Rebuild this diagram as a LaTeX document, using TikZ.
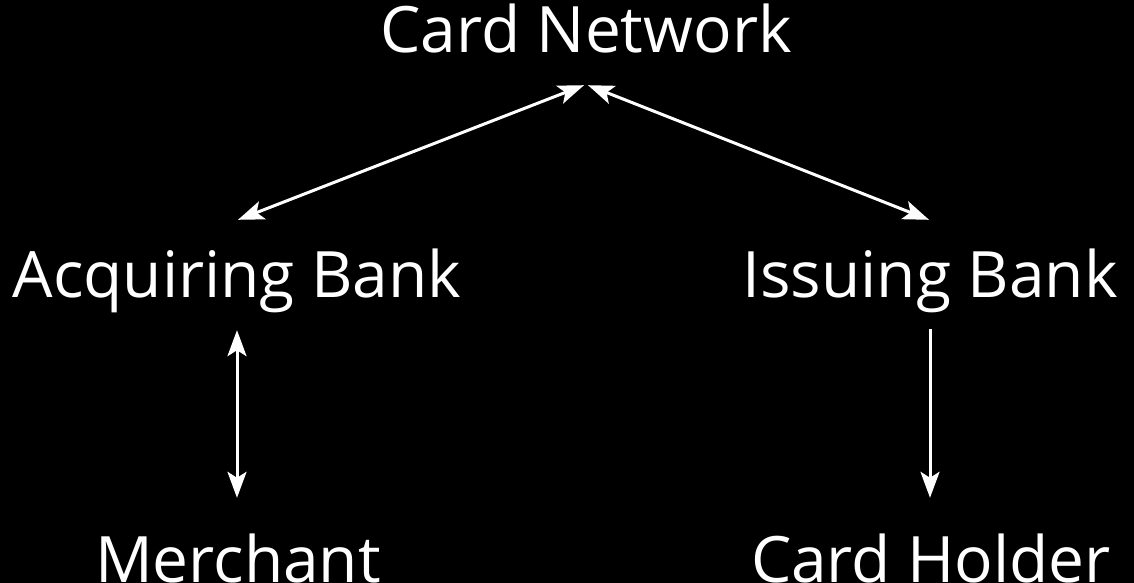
\documentclass[tikz,border=0pt]{standalone}
\usepackage{fontspec}
\setmainfont{Open Sans}
\usepackage{xcolor}
\usetikzlibrary{calc,arrows.meta}
\definecolor{bg}{HTML}{000000}
\definecolor{text}{HTML}{FFFFFF}
\tikzset{
  party/.style={text=text, font=\fontsize{64}{76}\selectfont, inner sep=0pt,
    text height=45pt, text depth=0pt, anchor=base},
  link/.style={draw=text, line width=3pt,
    arrows={Stealth[length=26pt, width=19pt, inset=6pt]-Stealth[length=26pt, width=19pt, inset=6pt]}},
  oneway/.style={draw=text, line width=3pt,
    -{Stealth[length=26pt, width=19pt, inset=6pt]}},
}
\begin{document}
\begin{tikzpicture}[x=1pt,y=-1pt]
  \fill[bg] (0,0) rectangle (1134,583);
  \useasboundingbox (0,0) rectangle (1134,583);
  \node[party] (net) at (586,53) {Card Network};
  \node[party] (acq) at (237,297) {Acquiring Bank};
  \node[party] (iss) at (930,297) {Issuing Bank};
  \node[party] (mer) at (238,582) {Merchant};
  \node[party] (hold) at (931,582) {Card Holder};
  \draw[link] ([xshift=-2pt,yshift=-32pt]net.south) -- ([xshift=1pt,yshift=32pt]acq.north);
  \draw[link] ([xshift=2pt,yshift=-32pt]net.south) -- ([xshift=-1pt,yshift=32pt]iss.north);
  \draw[link] ([yshift=-33pt]acq.south) -- ([xshift=-1pt,yshift=39pt]mer.north);
  \draw[oneway] ([yshift=-32pt]iss.south) -- ([xshift=-1pt,yshift=39pt]hold.north);
\end{tikzpicture}
\end{document}
